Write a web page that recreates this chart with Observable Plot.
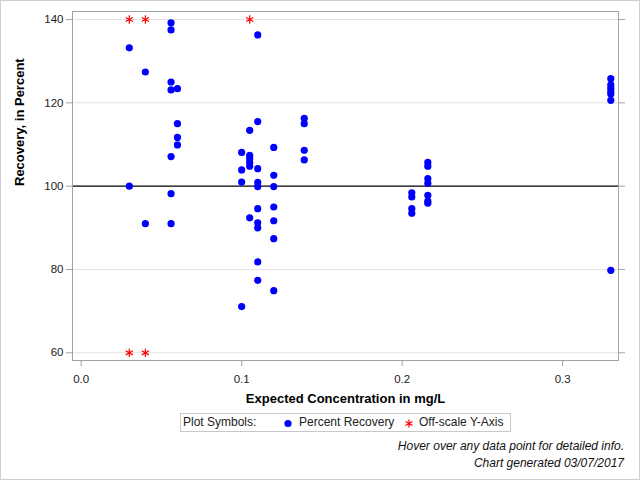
<!DOCTYPE html>
<html>
<head>
<meta charset="utf-8">
<script src="https://cdn.jsdelivr.net/npm/d3@7"></script>
<script src="https://cdn.jsdelivr.net/npm/@observablehq/plot@0.6"></script>
<style>
  html, body { margin: 0; padding: 0; background: #fff; }
  body { position: relative; width: 640px; height: 480px; overflow: hidden; font-family: "Liberation Sans", Arial, sans-serif; }
  #border { position: absolute; left: 0; top: 0; width: 640px; height: 480px; box-sizing: border-box; border: 1px solid #cfcfcf; pointer-events: none; z-index: 3; }
  #chart { position: absolute; left: 0; top: 0; }
  #legend { position: absolute; left: 180px; top: 413px; width: 331px; height: 19px; box-sizing: border-box; border: 1px solid #c8c8c8; font-size: 12px; color: #222; background: #fff; }
  #legend span { position: absolute; top: 0; line-height: 17px; white-space: nowrap; }
  #legend svg { position: absolute; top: 0; }
  #notes { position: absolute; right: 16px; top: 438px; text-align: right; font-style: italic; font-size: 12px; line-height: 17px; color: #111; white-space: nowrap; }
</style>
</head>
<body>
<div id="chart"></div>
<div id="legend"></div>
<div id="notes"></div>
<div id="border"></div>
<script>
// ---- data ----
const concentration = [0.03, 0.04, 0.056, 0.06, 0.1, 0.105, 0.11, 0.12, 0.139, 0.206, 0.216, 0.33];
const recovery = [
  [133.2, 100.0],
  [127.4, 91.0],
  [139.2, 137.5, 125.0, 123.1, 107.1, 98.2, 91.0],
  [123.4, 115.0, 111.7, 109.9],
  [108.1, 103.9, 101.0, 71.1],
  [113.4, 107.4, 106.6, 105.7, 104.8, 92.4],
  [136.3, 115.5, 104.2, 100.9, 99.9, 94.6, 91.2, 90.0, 81.8, 77.4],
  [109.3, 102.6, 99.9, 95.0, 91.7, 87.4, 74.9],
  [116.3, 115.0, 108.6, 106.3],
  [98.4, 97.4, 94.6, 93.5],
  [105.7, 104.8, 101.8, 100.7, 97.8, 96.4, 95.9],
  [125.8, 124.3, 123.5, 122.7, 122.1, 120.6, 79.8]
];
const offscaleConc = [0.03, 0.03, 0.04, 0.04, 0.105];
const offscaleRecovery = [140, 60, 140, 60, 140];
const xTicks = [0, 0.1, 0.2, 0.3];
const yTicks = [60, 80, 100, 120, 140];
const gridValues = [60, 80, 120, 140];
const referenceValue = [100];
const yLabel = "Recovery, in Percent";
const xLabel = "Expected Concentration in mg/L";
const legendTitle = "Plot Symbols:";
const legendItems = ["Percent Recovery", "Off-scale Y-Axis"];
const notes = ["Hover over any data point for detailed info.", "Chart generated 03/07/2017"];

const points = [];
concentration.forEach((c, i) => recovery[i].forEach(r => points.push({c, r})));
const offscale = offscaleConc.map((c, i) => ({c, r: offscaleRecovery[i]}));

const font = "'Liberation Sans', Arial, sans-serif";
const chart = Plot.plot({
  width: 640,
  height: 412,
  marginLeft: 72,
  marginRight: 22,
  marginTop: 11,
  marginBottom: 52,
  style: {fontFamily: font, fontSize: "11px", background: "transparent", color: "#222"},
  x: {domain: [-0.0054, 0.3348], label: null},
  y: {domain: [58.15, 141.92], label: null},
  marks: [
    Plot.gridY(gridValues, {stroke: "#e2e2e2", strokeOpacity: 1}),
    Plot.ruleY(referenceValue, {stroke: "black", strokeWidth: 1.2}),
    Plot.frame({stroke: "#a3a3a3"}),
    Plot.axisY({ticks: yTicks, tickSize: 6, tickPadding: 3, stroke: "#a3a3a3", fill: "#222", label: null, fontSize: 11.5}),
    Plot.axisY({anchor: "right", ticks: yTicks, tickSize: 6, stroke: "#a3a3a3", tickFormat: () => "", label: null}),
    Plot.axisX({ticks: xTicks, tickSize: 6, tickPadding: 8, stroke: "#a3a3a3", fill: "#222", tickFormat: d3.format(".1f"), label: null, fontSize: 11.5}),
    Plot.dot(points, {x: "c", y: "r", r: 3.6, fill: "#0000ff", stroke: "none"}),
    Plot.dot(offscale, {x: "c", y: "r", symbol: "asterisk", r: 3.9, stroke: "#ff0000", strokeWidth: 1.2, fill: "none"}),
    Plot.text([yLabel], {frameAnchor: "left", dx: -53, rotate: -90, fontWeight: "bold", fontSize: 13, fill: "#000"}),
    Plot.text([xLabel], {frameAnchor: "bottom", dy: 42, fontWeight: "bold", fontSize: 13, fill: "#000"})
  ]
});
document.getElementById("chart").appendChild(chart);

// legend
const legend = document.getElementById("legend");
function addSpan(text, left) {
  const s = document.createElement("span");
  s.textContent = text;
  s.style.left = left + "px";
  legend.appendChild(s);
}
addSpan(legendTitle, 2);
const ns = "http://www.w3.org/2000/svg";
function symbolSvg(left, kind) {
  const svg = document.createElementNS(ns, "svg");
  svg.setAttribute("width", 12); svg.setAttribute("height", 17);
  svg.style.left = left + "px";
  if (kind === "dot") {
    const c = document.createElementNS(ns, "circle");
    c.setAttribute("cx", 6); c.setAttribute("cy", 9.5); c.setAttribute("r", 3.6);
    c.setAttribute("fill", "#0000ff");
    svg.appendChild(c);
  } else {
    const p = document.createElementNS(ns, "path");
    p.setAttribute("d", d3.symbol(d3.symbolAsterisk, 45)());
    p.setAttribute("transform", "translate(6,9.5)");
    p.setAttribute("stroke", "#ff0000"); p.setAttribute("stroke-width", 1.2); p.setAttribute("fill", "none");
    svg.appendChild(p);
  }
  legend.appendChild(svg);
}
symbolSvg(101, "dot");
addSpan(legendItems[0], 118);
symbolSvg(222, "star");
addSpan(legendItems[1], 238);

document.getElementById("notes").innerHTML = notes.map(n => `<div>${n}</div>`).join("");
</script>
</body>
</html>
